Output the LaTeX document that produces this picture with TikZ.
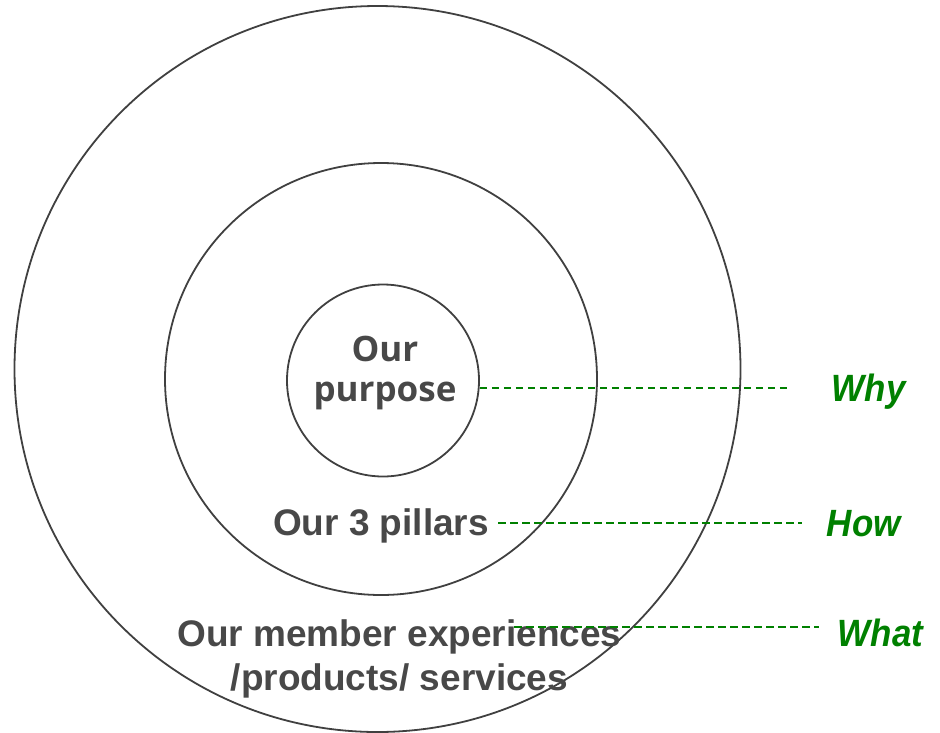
\documentclass[tikz,border=0pt]{standalone}
\usepackage{fontspec}
\setmainfont{Liberation Sans}
\newfontfamily\roundfont{Open Sans}
\newfontfamily\narrowfont[FakeStretch=0.92]{Liberation Sans}
\usetikzlibrary{positioning}
\definecolor{ringgray}{RGB}{64,64,64}
\definecolor{textgray}{RGB}{72,72,72}
\definecolor{labelgreen}{RGB}{0,128,0}

\begin{document}
\begin{tikzpicture}[x=1pt,y=-1pt,line width=1.8pt,
    ring/.style={draw=ringgray,circle,inner sep=0pt},
    layer/.style={text=textgray,inner sep=0pt,align=center,anchor=base,
      font=\fontsize{37}{43.3}\selectfont\bfseries},
    tag/.style={text=labelgreen,inner sep=0pt,anchor=base west,
      font=\narrowfont\fontsize{38}{44}\selectfont\bfseries\itshape},
    guide/.style={draw=labelgreen,dash pattern=on 7.5pt off 4.5pt,line width=2.2pt}]
  \useasboundingbox (0,0) rectangle (940,732);
  % the three rings
  \node[ring,minimum size=726pt](outer) at (377.5,369) {};
  \node[ring,minimum size=432pt](middle) at (381,379) {};
  \node[ring,minimum size=192pt](inner) at (383,380.5) {};
  % what each ring holds (base = last line)
  \node[layer,font=\roundfont\fontsize{35}{40}\selectfont\bfseries](purpose) at (385,401.7) {Our\\purpose};
  \node[layer](pillars) at (381,535) {Our 3 pillars};
  \node[layer](member) at (399.5,690) {Our member experiences\\/products/ services};
  % labels on the right
  \node[tag](why) at (831,401) {Why};
  \node[tag](how) at (826,536.7) {How};
  \node[tag](what) at (837,646.7) {What};
  \coordinate (whyA) at (inner.east |- 0,387.7);
  \coordinate (whyB) at (789,387.7);
  \coordinate (howA) at (498,522.7);
  \coordinate (howB) at (802,522.7);
  \coordinate (whatA) at (514,627.3);
  \coordinate (whatB) at (819,627.3);
  \draw[guide] (whyA)--(whyB);
  \draw[guide] (howA)--(howB);
  \draw[guide] (whatA)--(whatB);
\end{tikzpicture}
\end{document}
